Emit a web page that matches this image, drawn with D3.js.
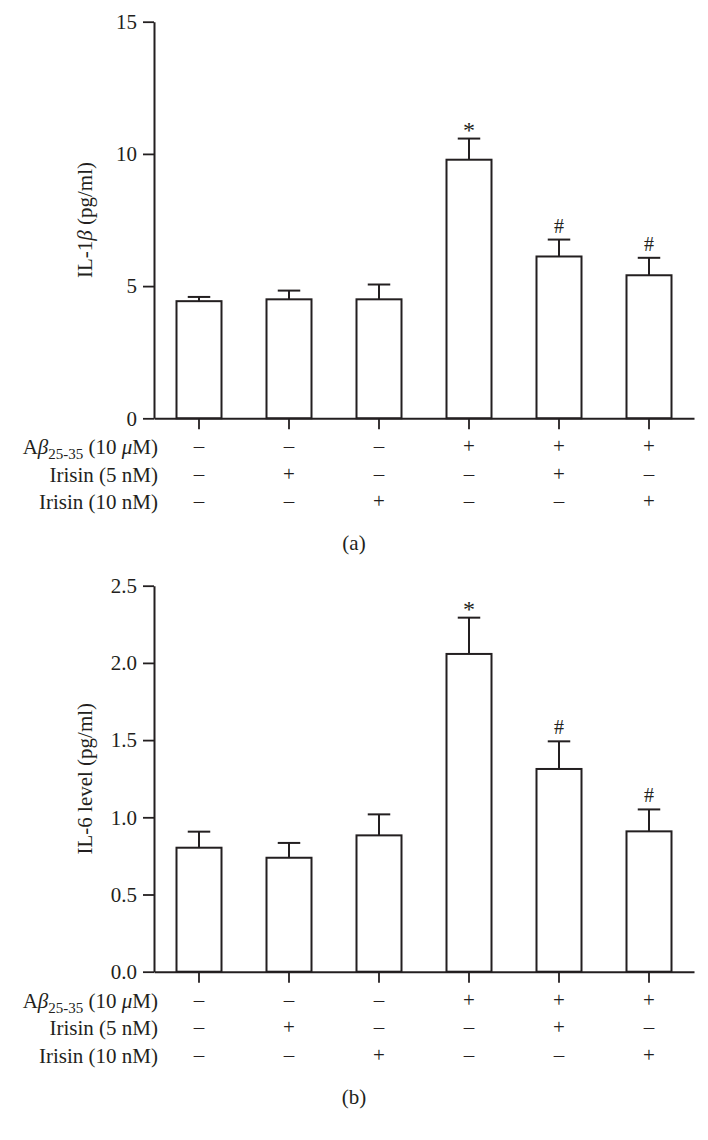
<!DOCTYPE html>
<html>
<head>
<meta charset="utf-8">
<script src="https://cdn.jsdelivr.net/npm/d3@7"></script>
<style>
  html, body { margin: 0; padding: 0; background: #fff; }
  svg { display: block; }
  text { font-family: "Liberation Serif", "Times New Roman", serif; fill: #231f20; }
</style>
</head>
<body>
<svg id="chart" width="708" height="1140"></svg>
<script>
// ---------- data ----------
const groups = ["G1", "G2", "G3", "G4", "G5", "G6"];
const abSigns   = ["–", "–", "–", "+", "+", "+"];
const ir5Signs  = ["–", "+", "–", "–", "+", "–"];
const ir10Signs = ["–", "–", "+", "–", "–", "+"];

const il1bMean = [4.43, 4.50, 4.50, 9.78, 6.12, 5.41];
const il1bErr  = [0.16, 0.33, 0.56, 0.80, 0.64, 0.66];
const il1bSig  = ["", "", "", "*", "#", "#"];
const il1bTicks = [0, 5, 10, 15];

const il6Mean = [0.803, 0.738, 0.883, 2.058, 1.313, 0.909];
const il6Err  = [0.104, 0.096, 0.136, 0.235, 0.179, 0.142];
const il6Sig  = ["", "", "", "*", "#", "#"];
const il6Ticks = [0, 0.5, 1.0, 1.5, 2.0, 2.5];

// ---------- drawing ----------
const svg = d3.select("#chart");
const ink = "#231f20";
const FS = 21;

const x = d3.scaleBand().domain(groups).range([154, 694]).paddingInner(0.5).paddingOuter(0.25);

function panel(cfg) {
  const g = svg.append("g");
  const y = d3.scaleLinear().domain([0, cfg.max]).range([cfg.y0, cfg.y1]);

  // y axis
  const ya = g.append("g").attr("transform", "translate(154,0)")
    .call(d3.axisLeft(y).tickValues(cfg.ticks).tickFormat(cfg.fmt).tickSize(11).tickSizeOuter(0).tickPadding(6));
  ya.select(".domain").attr("stroke", ink).attr("stroke-width", 2);
  ya.selectAll(".tick line").attr("stroke", ink).attr("stroke-width", 1.8);
  ya.selectAll(".tick text").attr("font-size", FS).attr("fill", ink)
    .style("font-family", '"Liberation Serif", "Times New Roman", serif');

  // y title
  g.append("text")
    .attr("transform", `translate(92,${(cfg.y0 + cfg.y1) / 2}) rotate(-90)`)
    .attr("text-anchor", "middle").attr("font-size", FS)
    .call(t => cfg.title(t));

  // bars
  const bw = x.bandwidth();
  g.selectAll("rect.bar").data(cfg.mean).join("rect")
    .attr("x", (d, i) => x(groups[i]))
    .attr("y", d => y(d))
    .attr("width", bw)
    .attr("height", d => y(0) - y(d))
    .attr("fill", "#fff").attr("stroke", ink).attr("stroke-width", 2);

  // error bars
  const cx = i => x(groups[i]) + bw / 2;
  g.selectAll("line.err").data(cfg.mean).join("line")
    .attr("x1", (d, i) => cx(i)).attr("x2", (d, i) => cx(i))
    .attr("y1", d => y(d)).attr("y2", (d, i) => y(d + cfg.err[i]))
    .attr("stroke", ink).attr("stroke-width", 2);
  g.selectAll("line.cap").data(cfg.mean).join("line")
    .attr("x1", (d, i) => cx(i) - bw / 4).attr("x2", (d, i) => cx(i) + bw / 4)
    .attr("y1", (d, i) => y(d + cfg.err[i])).attr("y2", (d, i) => y(d + cfg.err[i]))
    .attr("stroke", ink).attr("stroke-width", 2);

  // significance marks
  g.selectAll("text.sig").data(cfg.sig).join("text")
    .attr("x", (d, i) => cx(i))
    .attr("y", (d, i) => y(cfg.mean[i] + cfg.err[i]) - (d === "*" ? 1 : 7))
    .attr("text-anchor", "middle").attr("font-size", d => d === "*" ? 24 : 20)
    .text(d => d);

  // x axis
  const xa = g.append("g").attr("transform", `translate(0,${y(0)})`)
    .call(d3.axisBottom(x).tickSize(11).tickSizeOuter(0).tickFormat(""));
  xa.select(".domain").attr("stroke", ink).attr("stroke-width", 2);
  xa.selectAll(".tick line").attr("stroke", ink).attr("stroke-width", 1.8);

  // treatment rows
  const rows = [
    { signs: abSigns, label: t => {
        t.append("tspan").text("A");
        t.append("tspan").attr("font-style", "italic").text("β");
        t.append("tspan").attr("font-size", 15).attr("dy", 5).text("25-35");
        t.append("tspan").attr("dy", -5).text(" (10 ");
        t.append("tspan").attr("font-style", "italic").text("μ");
        t.append("tspan").text("M)");
      } },
    { signs: ir5Signs, label: t => t.text("Irisin (5 nM)") },
    { signs: ir10Signs, label: t => t.text("Irisin (10 nM)") }
  ];
  rows.forEach((r, k) => {
    const cy = y(0) + 29 + k * 27.5;
    g.append("text").attr("x", 158).attr("y", cy + 7)
      .attr("text-anchor", "end").attr("font-size", FS).call(r.label);
    g.selectAll(null).data(r.signs).join("text")
      .attr("x", (d, i) => cx(i)).attr("y", cy + 6)
      .attr("text-anchor", "middle").attr("font-size", FS)
      .text(d => d);
  });

  // caption
  g.append("text").attr("x", 354).attr("y", y(0) + 125 + 7)
    .attr("text-anchor", "middle").attr("font-size", FS).text(cfg.caption);
}

panel({
  max: 15, y0: 418.3, y1: 21.7, ticks: il1bTicks, fmt: d3.format("d"),
  mean: il1bMean, err: il1bErr, sig: il1bSig, caption: "(a)",
  title: t => {
    t.append("tspan").text("IL-1");
    t.append("tspan").attr("font-style", "italic").text("β");
    t.append("tspan").text(" (pg/ml)");
  }
});

panel({
  max: 2.5, y0: 971.7, y1: 585.7, ticks: il6Ticks, fmt: d3.format(".1f"),
  mean: il6Mean, err: il6Err, sig: il6Sig, caption: "(b)",
  title: t => t.text("IL-6 level (pg/ml)")
});
</script>
</body>
</html>
